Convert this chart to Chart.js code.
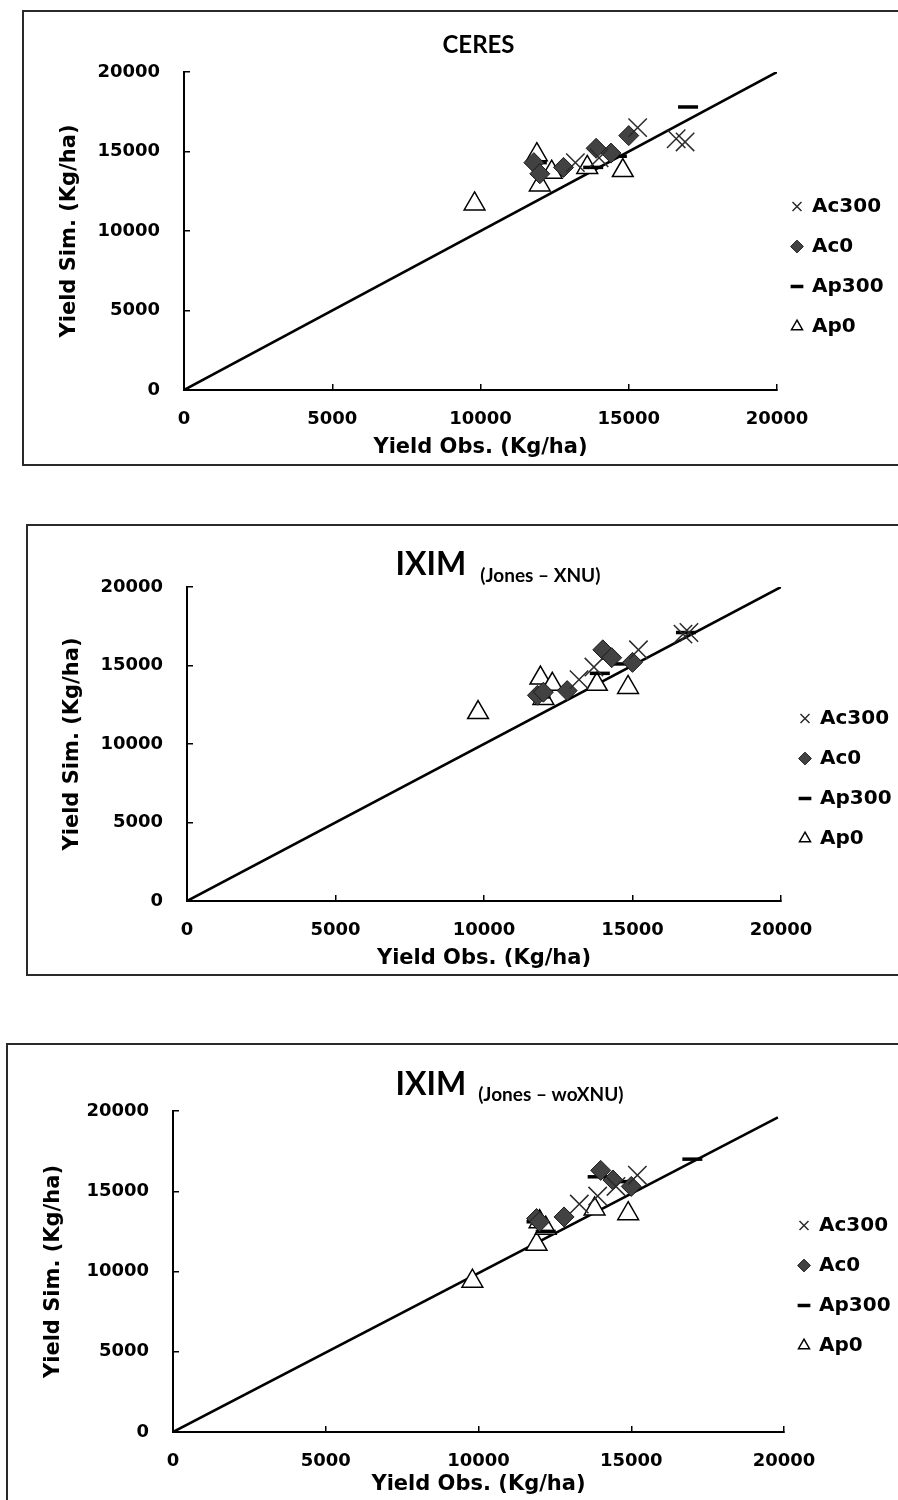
<!DOCTYPE html>
<html>
<head>
<meta charset="utf-8">
<script src="https://cdn.jsdelivr.net/npm/chart.js@4.4.1/dist/chart.umd.min.js"></script>
<style>
  html, body { margin: 0; padding: 0; background: #fff; }
  body { position: relative; width: 898px; height: 1500px; overflow: hidden; }
  .frame { position: absolute; border: 2px solid #2a2a2a; box-sizing: border-box; }
  canvas { position: absolute; left: 0; }
</style>
</head>
<body>
<div class="frame" style="left:22px; top:10px; width:900px; height:456px;"></div>
<div class="frame" style="left:26px; top:524px; width:900px; height:452px;"></div>
<div class="frame" style="left:6px; top:1043px; width:900px; height:480px;"></div>

<canvas id="ceres" width="898" height="454" style="top:11px;"></canvas>
<canvas id="ximXnu" width="898" height="448" style="top:526px;"></canvas>
<canvas id="ximWo" width="898" height="455" style="top:1045px;"></canvas>

<script>
// treatments, in legend order
const seriesNames = ['Ac300', 'Ac0', 'Ap300', 'Ap0'];
const axisTicks = [0, 5000, 10000, 15000, 20000];

// [observed, simulated] yield pairs, kg/ha
const ceresAc300 = [[13200, 14300], [14000, 14600], [15300, 16500], [16600, 15800], [16900, 15600]];
const ceresAc0 = [[11800, 14300], [12000, 13600], [12800, 14000], [13900, 15200], [14400, 14900], [15000, 16000]];
const ceresAp300 = [[11900, 14300], [13800, 14000], [14600, 14700], [17000, 17800]];
const ceresAp0 = [[9800, 11700], [11900, 14800], [12000, 12900], [12400, 13700], [13600, 14000], [14800, 13800]];

const xnuAc300 = [[13200, 14100], [13700, 14900], [15200, 16000], [16700, 17000], [16900, 17100]];
const xnuAc0 = [[11800, 13100], [12000, 13300], [12800, 13400], [14000, 16000], [14300, 15500], [15000, 15200]];
const xnuAp300 = [[11900, 13000], [13900, 14500], [14700, 15100], [16800, 17100]];
const xnuAp0 = [[9800, 12000], [11900, 14200], [12000, 12900], [12300, 13800], [13800, 13800], [14850, 13600]];

const woAc300 = [[13300, 14200], [13900, 14700], [14500, 15300], [15200, 16000]];
const woAc0 = [[11900, 13300], [12000, 13100], [12800, 13400], [14000, 16300], [14400, 15700], [15000, 15300]];
const woAp300 = [[11900, 13100], [12200, 12500], [13900, 15900], [14600, 15600], [17000, 17000]];
const woAp0 = [[9800, 9400], [11900, 11700], [12000, 13100], [12200, 12700], [13800, 13900], [14900, 13600]];

// 1:1 reference lines
const ceresLine = [[0, 0], [20000, 20000]];
const xnuLine = [[0, 0], [20000, 20000]];
const woLine = [[0, 0], [19800, 19600]];

const markerLook = [
  { pointStyle: 'crossRot', pointRadius: 13, pointBorderColor: '#2b2b2b', pointBackgroundColor: 'rgba(0,0,0,0)', pointBorderWidth: 1.5 },
  { pointStyle: 'rectRot', pointRadius: 10, pointBorderColor: '#1a1a1a', pointBackgroundColor: '#424242', pointBorderWidth: 1 },
  { pointStyle: 'line', pointRadius: 10, pointBorderColor: '#000', pointBackgroundColor: '#000', pointBorderWidth: 3.5 },
  { pointStyle: 'triangle', pointRadius: 12, pointBorderColor: '#000', pointBackgroundColor: '#fff', pointBorderWidth: 1.5 }
];

const toPoints = rows => rows.map(r => ({ x: r[0], y: r[1] }));

// heading with an optional small suffix, centred over the plot area
const panelTitle = {
  id: 'panelTitle',
  afterDraw(chart, args, o) {
    const { ctx, chartArea } = chart;
    const mainFont = `bold ${o.size}px Lato, sans-serif`;
    const subFont = `bold ${o.subSize}px Lato, sans-serif`;
    ctx.save();
    ctx.fillStyle = '#000';
    ctx.textAlign = 'left';
    ctx.textBaseline = 'alphabetic';
    ctx.font = mainFont;
    const mainW = ctx.measureText(o.text).width;
    let subW = 0;
    if (o.sub) {
      ctx.font = subFont;
      subW = o.gap + ctx.measureText(o.sub).width;
    }
    const x0 = (chartArea.left + chartArea.right) / 2 + o.shift - (mainW + subW) / 2;
    const base = chartArea.top - o.above;
    ctx.font = mainFont;
    ctx.fillText(o.text, x0, base);
    if (o.sub) {
      ctx.font = subFont;
      ctx.fillText(o.sub, x0 + mainW + o.gap, base + o.subDrop);
    }
    ctx.restore();
  }
};

// moves the legend block after layout
const legendNudge = {
  id: 'legendNudge',
  afterLayout(chart, args, o) {
    const lg = chart.legend;
    if (!lg) return;
    lg.left += o.dx; lg.right += o.dx;
    lg.top += o.dy; lg.bottom += o.dy;
  }
};

function buildPanel(id, series, line, look) {
  const datasets = series.map((rows, i) => Object.assign({
    label: seriesNames[i],
    data: toPoints(rows)
  }, markerLook[i]));
  datasets.push({
    type: 'line',
    label: '1:1',
    data: toPoints(line),
    borderColor: '#000',
    borderWidth: 2.6,
    pointRadius: 0,
    fill: false,
    tension: 0
  });

  const tickFont = { family: 'DejaVu Sans', weight: 'bold', size: 18 };
  const axisTitleFont = { family: 'DejaVu Sans', weight: 'bold', size: 21 };

  return new Chart(document.getElementById(id), {
    type: 'scatter',
    data: { datasets },
    plugins: [panelTitle, legendNudge],
    options: {
      responsive: false,
      animation: false,
      devicePixelRatio: 1,
      layout: { padding: { top: look.top, left: 0, right: 0, bottom: 0 } },
      scales: {
        x: {
          type: 'linear',
          min: axisTicks[0],
          max: axisTicks[axisTicks.length - 1],
          afterBuildTicks: s => { s.ticks = axisTicks.map(v => ({ value: v })); },
          ticks: { color: '#000', font: tickFont, padding: 25, maxRotation: 0, autoSkip: false, callback: v => String(v) },
          grid: { drawOnChartArea: false, drawTicks: true, tickLength: -6, color: '#000', lineWidth: 1.5 },
          border: { color: '#000', width: 2 },
          title: { display: true, text: 'Yield Obs. (Kg/ha)', color: '#000', font: axisTitleFont, padding: { top: 0, bottom: look.xTitlePad } },
          afterFit: s => { s.height = look.xAxisH; }
        },
        y: {
          type: 'linear',
          min: axisTicks[0],
          max: axisTicks[axisTicks.length - 1],
          afterBuildTicks: s => { s.ticks = axisTicks.map(v => ({ value: v })); },
          ticks: { color: '#000', font: tickFont, padding: 30, autoSkip: false, callback: v => String(v) },
          grid: { drawOnChartArea: false, drawTicks: true, tickLength: -6, color: '#000', lineWidth: 1.5 },
          border: { color: '#000', width: 2 },
          title: { display: true, text: 'Yield Sim. (Kg/ha)', color: '#000', font: axisTitleFont, padding: { top: look.yTitlePad, bottom: 0 } },
          afterFit: s => { s.width = look.yAxisW; }
        }
      },
      plugins: {
        title: { display: false },
        tooltip: { enabled: false },
        legend: {
          position: 'right',
          maxWidth: look.legendW,
          labels: {
            usePointStyle: true,
            boxWidth: 10,
            boxHeight: 9,
            padding: 20,
            color: '#000',
            font: { family: 'DejaVu Sans', weight: 'bold', size: 20 },
            filter: item => item.datasetIndex < seriesNames.length
          }
        },
        panelTitle: look.title,
        legendNudge: look.nudge
      }
    }
  });
}

buildPanel('ceres', [ceresAc300, ceresAc0, ceresAp300, ceresAp0], ceresLine, {
  top: 61, xAxisH: 75, yAxisW: 184, legendW: 121, xTitlePad: 5, yTitlePad: 57,
  title: { text: 'CERES', size: 24, shift: -2, above: 19 },
  nudge: { dx: -5, dy: -2 }
});

buildPanel('ximXnu', [xnuAc300, xnuAc0, xnuAp300, xnuAp0], xnuLine, {
  top: 61, xAxisH: 73, yAxisW: 187, legendW: 117, xTitlePad: 3, yTitlePad: 60,
  title: { text: 'IXIM', sub: '(Jones \u2013 XNU)', size: 32, subSize: 19, gap: 14, subDrop: 7, shift: 14, above: 12 },
  nudge: { dx: -1, dy: -2 }
});

buildPanel('ximWo', [woAc300, woAc0, woAp300, woAp0], woLine, {
  top: 66, xAxisH: 68, yAxisW: 173, legendW: 114, xTitlePad: 3, yTitlePad: 41,
  title: { text: 'IXIM', sub: '(Jones \u2013 woXNU)', size: 32, subSize: 19, gap: 12, subDrop: 6, shift: 31, above: 16 },
  nudge: { dx: -5, dy: -20 }
});
</script>
</body>
</html>
